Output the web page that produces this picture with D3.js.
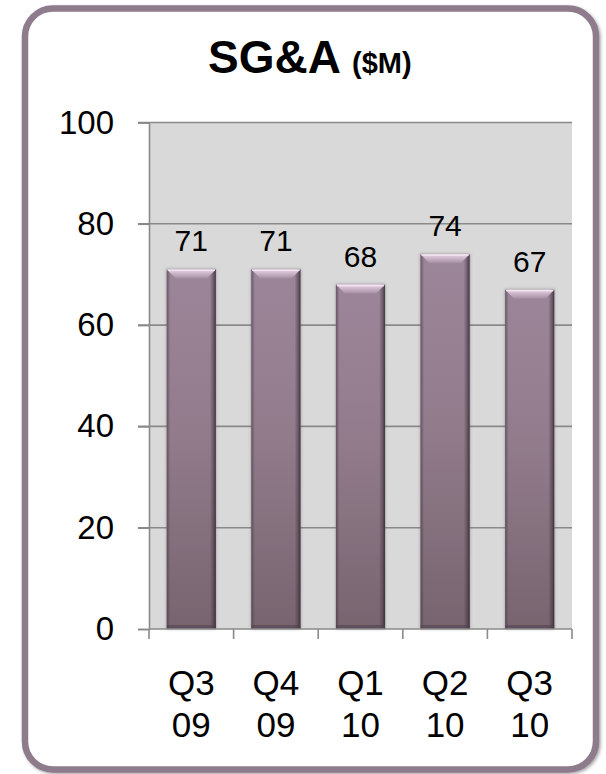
<!DOCTYPE html>
<html>
<head>
<meta charset="utf-8">
<script src="https://cdn.jsdelivr.net/npm/d3@7/dist/d3.min.js"></script>
<style>
  html, body { margin: 0; padding: 0; background: #ffffff; }
  svg { display: block; }
  text { font-family: "Liberation Sans", Arial, sans-serif; fill: #000; }
</style>
</head>
<body>
<svg id="chart" width="606" height="774"></svg>
<script>
// Quarterly SG&A, millions of dollars
const quarters = ["Q3 09", "Q4 09", "Q1 10", "Q2 10", "Q3 10"];
const sgaValues = [71, 71, 68, 74, 67];
const yTicks = [0, 20, 40, 60, 80, 100];

const svg = d3.select("#chart");
const defs = svg.append("defs");

// Frame shadow
const fShadow = defs.append("filter").attr("id", "frameShadow")
  .attr("x", "-5%").attr("y", "-5%").attr("width", "110%").attr("height", "110%");
fShadow.append("feDropShadow").attr("dx", 1.5).attr("dy", 1.5)
  .attr("stdDeviation", 1.5).attr("flood-color", "#3a3a3a").attr("flood-opacity", 0.45);

// Soft halo around each bar
const bShadow = defs.append("filter").attr("id", "barShadow")
  .attr("x", "-20%").attr("y", "-10%").attr("width", "140%").attr("height", "120%");
bShadow.append("feDropShadow").attr("dx", 0).attr("dy", 0)
  .attr("stdDeviation", 1.4).attr("flood-color", "#555").attr("flood-opacity", 0.55);

// Bar body: vertical shading
const gBody = defs.append("linearGradient").attr("id", "barBody")
  .attr("x1", 0).attr("y1", 0).attr("x2", 0).attr("y2", 1);
gBody.append("stop").attr("offset", "0%").attr("stop-color", "#9b8598");
gBody.append("stop").attr("offset", "45%").attr("stop-color", "#927c8c");
gBody.append("stop").attr("offset", "100%").attr("stop-color", "#77646f");

// Bar sides: darker edges
const gSide = defs.append("linearGradient").attr("id", "barSide")
  .attr("x1", 0).attr("y1", 0).attr("x2", 1).attr("y2", 0);
gSide.append("stop").attr("offset", "0%").attr("stop-color", "#3d2f3a").attr("stop-opacity", 0.55);
gSide.append("stop").attr("offset", "7%").attr("stop-color", "#3d2f3a").attr("stop-opacity", 0.0);
gSide.append("stop").attr("offset", "88%").attr("stop-color", "#3d2f3a").attr("stop-opacity", 0.0);
gSide.append("stop").attr("offset", "96%").attr("stop-color", "#3d2f3a").attr("stop-opacity", 0.55);
gSide.append("stop").attr("offset", "100%").attr("stop-color", "#2a1f28").attr("stop-opacity", 0.8);

// Top bevel
const gTop = defs.append("linearGradient").attr("id", "barTop")
  .attr("x1", 0).attr("y1", 0).attr("x2", 0).attr("y2", 1);
gTop.append("stop").attr("offset", "0%").attr("stop-color", "#ead6e8");
gTop.append("stop").attr("offset", "100%").attr("stop-color", "#a58ea2");

// Outer frame
svg.append("rect")
  .attr("x", 25).attr("y", 8.5).attr("width", 571).attr("height", 761)
  .attr("rx", 28).attr("ry", 28)
  .attr("fill", "#ffffff").attr("stroke", "#8e7b8c").attr("stroke-width", 6.5)
  .attr("filter", "url(#frameShadow)");

// Title
const title = svg.append("text").attr("x", 208).attr("y", 73)
  .style("font-weight", "bold");
title.append("tspan").attr("font-size", 46).text("SG&A ");
title.append("tspan").attr("font-size", 29).text("($M)");

// Scales
const x = d3.scaleBand().domain(quarters).range([149, 572])
  .paddingInner(0.42).paddingOuter(0.21);
const y = d3.scaleLinear().domain([0, 100]).range([629, 122.5]);

// Plot background
svg.append("rect")
  .attr("x", 149).attr("y", y(100))
  .attr("width", 572 - 149).attr("height", y(0) - y(100))
  .attr("fill", "#d9d9d9");

// Horizontal gridlines with tick marks
svg.append("g").selectAll("line").data(yTicks.filter(d => d > 0)).join("line")
  .attr("x1", 138).attr("x2", 572)
  .attr("y1", d => y(d)).attr("y2", d => y(d))
  .attr("stroke", "#8a8a8a").attr("stroke-width", 1.6);

// Y axis
const yAxis = svg.append("g").attr("transform", "translate(149,0)")
  .call(d3.axisLeft(y).tickValues(yTicks).tickSize(11).tickPadding(24));
yAxis.select(".domain").attr("stroke", "#8a8a8a").attr("stroke-width", 1.6);
yAxis.selectAll(".tick line").attr("stroke", "#8a8a8a").attr("stroke-width", 1.6);
yAxis.selectAll(".tick text")
  .attr("font-family", "Liberation Sans, Arial, sans-serif")
  .attr("font-size", 33).attr("fill", "#000");

// Bars
const bars = svg.append("g").selectAll("g").data(sgaValues).join("g")
  .attr("filter", "url(#barShadow)");
const bw = x.bandwidth();
bars.append("rect")
  .attr("x", (d, i) => x(quarters[i])).attr("y", d => y(d))
  .attr("width", bw).attr("height", d => y(0) - y(d))
  .attr("fill", "url(#barBody)");
bars.append("rect")
  .attr("x", (d, i) => x(quarters[i])).attr("y", d => y(d))
  .attr("width", bw).attr("height", d => y(0) - y(d))
  .attr("fill", "url(#barSide)");
// bottom edge darkening
bars.append("rect")
  .attr("x", (d, i) => x(quarters[i])).attr("y", y(0) - 4)
  .attr("width", bw).attr("height", 4)
  .attr("fill", "#4e3f4b").attr("opacity", 0.55);
// top bevel
bars.append("path")
  .attr("d", (d, i) => {
    const x0 = x(quarters[i]), x1 = x0 + bw, t = y(d), h = 9, k = 9;
    return `M${x0},${t} L${x1},${t} L${x1 - k},${t + h} L${x0 + k},${t + h} Z`;
  })
  .attr("fill", "url(#barTop)");
bars.append("line")
  .attr("x1", (d, i) => x(quarters[i]) + 1).attr("x2", (d, i) => x(quarters[i]) + bw - 1)
  .attr("y1", d => y(d) + 0.8).attr("y2", d => y(d) + 0.8)
  .attr("stroke", "#f3e6f2").attr("stroke-width", 1.5);

// X axis
const xAxisG = svg.append("g");
xAxisG.append("line").attr("x1", 149).attr("x2", 572)
  .attr("y1", y(0)).attr("y2", y(0))
  .attr("stroke", "#8a8a8a").attr("stroke-width", 1.6);
const tickXs = quarters.map(q => x(q) - x.step() * x.paddingInner() / 2)
  .concat([x(quarters[quarters.length - 1]) + bw + x.step() * x.paddingInner() / 2]);
xAxisG.selectAll("line.tk").data(tickXs).join("line").attr("class", "tk")
  .attr("x1", d => d).attr("x2", d => d)
  .attr("y1", y(0)).attr("y2", y(0) + 10)
  .attr("stroke", "#8a8a8a").attr("stroke-width", 1.6);

// Category labels on two lines
const xl = svg.append("g").selectAll("text").data(quarters).join("text")
  .attr("x", d => x(d) + bw / 2).attr("y", 695)
  .attr("text-anchor", "middle").attr("font-size", 35);
xl.append("tspan").attr("x", d => x(d) + bw / 2).text(d => d.split(" ")[0]);
xl.append("tspan").attr("x", d => x(d) + bw / 2).attr("dy", 42).text(d => d.split(" ")[1]);

// Value labels
svg.append("g").selectAll("text").data(sgaValues).join("text")
  .attr("x", (d, i) => x(quarters[i]) + bw / 2)
  .attr("y", d => y(d) - 18)
  .attr("text-anchor", "middle").attr("font-size", 30)
  .text(d => d);
</script>
</body>
</html>
